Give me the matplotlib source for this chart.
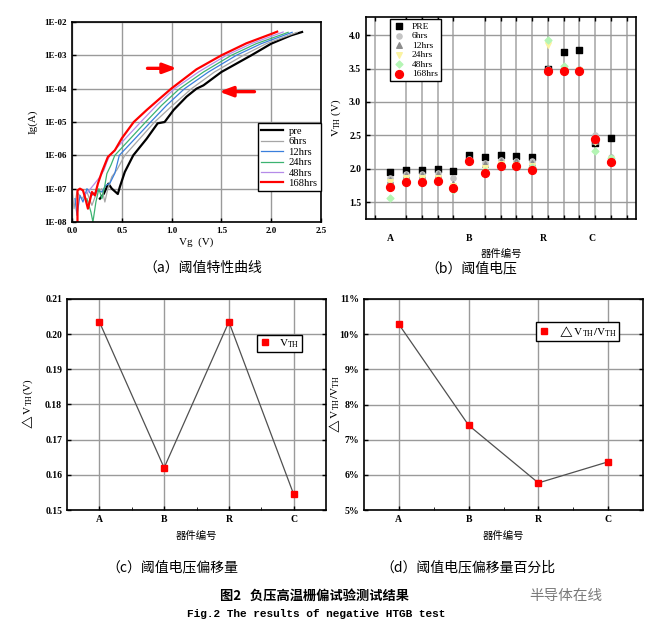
import numpy as np
import matplotlib.pyplot as plt
from matplotlib.ticker import FixedLocator, FuncFormatter

plt.rcParams['font.family'] = ['Liberation Serif', 'Noto Sans CJK SC', 'DejaVu Sans']
plt.rcParams['mathtext.fontset'] = 'stix'
plt.rcParams['xtick.direction'] = 'in'
plt.rcParams['ytick.direction'] = 'in'

# ---------- (a) Ig-Vg curves ----------
curve_labels = ['pre', '6hrs', '12hrs', '24hrs', '48hrs', '168hrs']
curve_colors = ['black', '#a6a6a6', '#3a7fdc', '#3cb371', '#b58be8', 'red']

vg_pre = [0.28, 0.32, 0.365, 0.40, 0.46, 0.48, 0.53, 0.615, 0.75, 0.86, 0.93, 1.02, 1.15, 1.25, 1.32, 1.5, 1.8, 2.0, 2.2, 2.31]
lg_pre = [-7.3, -7.15, -6.85, -7.0, -7.16, -6.95, -6.5, -6.0, -5.5, -5.04, -5.0, -4.64, -4.24, -4.0, -3.9, -3.5, -3.0, -2.65, -2.4, -2.30]

vg_6h = [0.0, 0.02, 0.05, 0.1, 0.15, 0.2, 0.25, 0.3, 0.33, 0.36, 0.40, 0.45, 0.53, 0.83, 1.01, 1.20, 1.43, 1.72, 1.95, 2.26]
lg_6h = [-7.0, -7.6, -7.1, -7.3, -7.1, -7.5, -7.1, -7.0, -7.4, -7.0, -6.64, -6.44, -6.0, -5.0, -4.5, -4.0, -3.5, -3.0, -2.65, -2.31]

vg_12h = [0.03, 0.05, 0.08, 0.11, 0.15, 0.2, 0.26, 0.3, 0.34, 0.38, 0.43, 0.475, 0.79, 0.95, 1.13, 1.37, 1.65, 1.9, 2.21]
lg_12h = [-7.3, -7.8, -7.2, -7.4, -7.0, -7.2, -7.05, -7.1, -6.9, -6.84, -6.54, -6.0, -5.0, -4.5, -4.0, -3.5, -3.0, -2.65, -2.31]

vg_24h = [0.15, 0.19, 0.21, 0.24, 0.27, 0.30, 0.33, 0.35, 0.39, 0.43, 0.74, 0.90, 1.08, 1.32, 1.60, 1.85, 2.17]
lg_24h = [-7.3, -7.7, -8.0, -7.4, -7.0, -7.3, -6.9, -6.55, -6.3, -6.0, -5.0, -4.5, -4.0, -3.5, -3.0, -2.65, -2.31]

vg_48h = [0.12, 0.16, 0.2, 0.24, 0.28, 0.32, 0.35, 0.38, 0.69, 0.85, 1.03, 1.27, 1.55, 1.8, 2.12]
lg_48h = [-7.2, -7.1, -6.95, -6.8, -6.65, -6.45, -6.2, -6.0, -5.0, -4.5, -4.0, -3.5, -3.0, -2.65, -2.30]

vg_168h = [0.055, 0.055, 0.08, 0.11, 0.13, 0.16, 0.20, 0.23, 0.26, 0.30, 0.36, 0.43, 0.50, 0.62, 0.75, 0.88, 1.0, 1.25, 1.5, 1.75, 2.0, 2.06]
lg_168h = [-8.0, -7.05, -7.0, -7.05, -7.25, -7.6, -7.1, -7.2, -6.85, -6.5, -6.05, -5.85, -5.49, -5.0, -4.64, -4.3, -3.99, -3.42, -3.0, -2.64, -2.36, -2.29]

curves_vg = [vg_pre, vg_6h, vg_12h, vg_24h, vg_48h, vg_168h]
curves_lg = [lg_pre, lg_6h, lg_12h, lg_24h, lg_48h, lg_168h]

# ---------- (b) threshold voltage per device ----------
x_b = list(range(1, 16))
b_labels = ['A', 'B', 'R', 'C']
b_label_pos = [1, 6, 10.7, 13.8]
vth_pre = [1.96, 1.99, 1.99, 2.00, 1.97, 2.20, 2.17, 2.20, 2.19, 2.18, 3.50, 3.74, 3.77, 2.39, 2.46]
vth_6h = [1.87, 1.93, 1.93, 1.94, 1.86, 2.15, 2.09, 2.13, 2.12, 2.11, 3.50, 3.52, 3.50, 2.50, 2.17]
vth_12h = [1.84, 1.91, 1.91, 1.92, 1.78, 2.14, 2.07, 2.12, 2.11, 2.09, 3.50, 3.52, 3.50, 2.42, 2.17]
vth_24h = [1.80, 1.86, 1.86, 1.87, 1.74, 2.12, 2.01, 2.07, 2.06, 2.04, 3.85, 3.50, 3.48, 2.40, 2.15]
vth_48h = [1.56, 1.82, 1.82, 1.84, 1.69, 2.13, 1.97, 2.05, 2.05, 2.02, 3.92, 3.53, 3.48, 2.26, 2.16]
vth_168h = [1.73, 1.81, 1.81, 1.82, 1.72, 2.12, 1.94, 2.04, 2.04, 1.99, 3.46, 3.47, 3.46, 2.45, 2.10]

# ---------- (c), (d) shift per device type ----------
devices = ['A', 'B', 'R', 'C']
dvth = [0.2035, 0.162, 0.2035, 0.1545]
dvth_pct = [10.28, 7.41, 5.77, 6.37]

W, H = 665, 634
fig = plt.figure(figsize=(W / 100, H / 100), dpi=100)


def box(l, r, t, b):
    return [l / W, 1 - b / H, (r - l) / W, (b - t) / H]


def bold_ticks(ax):
    for t in ax.get_xticklabels() + ax.get_yticklabels():
        t.set_fontweight('bold')


tick_fs = 7
grid_kw = dict(color='#9a9a9a', lw=1.0)

# (a)
ax1 = fig.add_axes(box(72, 321, 22, 222))
for vg, lg, lab, col in zip(curves_vg, curves_lg, curve_labels, curve_colors):
    lw = 1.6 if lab in ('pre', '168hrs') else 0.9
    ax1.plot(vg, 10.0 ** np.array(lg), color=col, lw=lw, label=lab)
ax1.set_yscale('log')
ax1.set_xlim(0, 2.5)
ax1.set_ylim(1e-8, 1e-2)
ax1.set_xticks(np.arange(0, 2.51, 0.5))
ax1.xaxis.set_major_formatter(FuncFormatter(lambda v, p: '%.1f' % v))
ax1.yaxis.set_major_locator(FixedLocator([10.0 ** k for k in range(-8, -1)]))
ax1.yaxis.set_minor_locator(FixedLocator([]))
ax1.yaxis.set_major_formatter(FuncFormatter(lambda v, p: '1E-%02d' % round(-np.log10(v))))
ax1.grid(True, **grid_kw)
ax1.tick_params(labelsize=6.5, length=3, width=1)
bold_ticks(ax1)
for s in ax1.spines.values():
    s.set_linewidth(1.2)
ax1.set_xlabel('Vg  (V)', fontsize=8, labelpad=2)
ax1.set_ylabel('Ig(A)', fontsize=8, labelpad=5)
ax1.annotate('', xy=(1.08, 10 ** -3.39), xytext=(0.73, 10 ** -3.39),
             arrowprops=dict(arrowstyle='-|>,head_width=0.3,head_length=0.8', color='red', lw=2.4))
ax1.annotate('', xy=(1.45, 10 ** -4.09), xytext=(1.86, 10 ** -4.09),
             arrowprops=dict(arrowstyle='-|>,head_width=0.3,head_length=0.8', color='red', lw=2.4))
leg = ax1.legend(loc='upper left', bbox_to_anchor=(0.746, 0.493), borderaxespad=0, fontsize=7.6,
                 fancybox=False, edgecolor='black', framealpha=1, handlelength=2.1,
                 labelspacing=0.1, borderpad=0.3, handletextpad=0.5)
leg.get_frame().set_linewidth(1.0)

# (b)
ax2 = fig.add_axes(box(366, 636, 17, 219))
ax2.scatter(x_b, vth_pre, marker='s', s=22, color='black', label='PRE', zorder=3)
ax2.scatter(x_b, vth_6h, marker='o', s=14, color='#c4c4c4', label='6hrs', zorder=3)
ax2.scatter(x_b, vth_12h, marker='^', s=16, color='#8c8c8c', label='12hrs', zorder=3)
ax2.scatter(x_b, vth_24h, marker='v', s=16, color='#fbf3a0', label='24hrs', zorder=3)
ax2.scatter(x_b, vth_48h, marker='D', s=12, color='#b4f5b4', label='48hrs', zorder=3)
ax2.scatter(x_b, vth_168h, marker='o', s=32, color='red', label='168hrs', zorder=3)
ax2.set_xlim(-0.55, 16.6)
ax2.set_ylim(1.25, 4.27)
ax2.set_yticks([1.5, 2.0, 2.5, 3.0, 3.5, 4.0])
ax2.yaxis.set_major_formatter(FuncFormatter(lambda v, p: '%.1f' % v))
ax2.set_xticks(b_label_pos)
ax2.set_xticklabels(b_labels)
ax2.set_xticks(range(0, 17), minor=True)
ax2.tick_params(axis='x', which='major', length=0, pad=11, labelsize=tick_fs)
ax2.tick_params(axis='x', which='minor', length=3, width=1, top=True)
ax2.tick_params(axis='y', labelsize=tick_fs, length=3, width=1)
bold_ticks(ax2)
ax2.grid(True, axis='y', **grid_kw)
ax2.grid(True, axis='x', which='minor', color='#ababab', lw=1.2)
for s in ax2.spines.values():
    s.set_linewidth(1.2)
ax2.set_xlabel('器件编号', fontsize=7.5, labelpad=4)
ax2.set_ylabel(r'$\mathrm{V_{TH}}$ (V)', fontsize=8, labelpad=4)
leg = ax2.legend(loc='upper left', bbox_to_anchor=(0.089, 0.989), borderaxespad=0, fontsize=6.8,
                 fancybox=False, edgecolor='black', framealpha=1, handlelength=1.2,
                 labelspacing=0.1, borderpad=0.3, handletextpad=0.8)
leg.get_frame().set_linewidth(1.0)

# (c), (d)
for pos, vals, ylim, yt, fmt, ylab, lab, anchor, labx in [
        (box(67, 326, 299, 510), dvth, (0.15, 0.21), np.arange(0.15, 0.2101, 0.01), '%.2f',
         r'$\triangle\mathrm{V_{TH}}$(V)', r'$\mathrm{V_{TH}}$', (0.733, 0.829), -0.123),
        (box(364, 643, 299, 510), dvth_pct, (5, 11), np.arange(5, 11.01, 1), '%d%%',
         r'$\triangle\mathrm{V_{TH}/V_{TH}}$', r'$\triangle\mathrm{V_{TH}/V_{TH}}$', (0.616, 0.891), -0.078)]:
    ax = fig.add_axes(pos)
    ax.plot(range(len(devices)), vals, color='#505050', lw=0.9, marker='s', ms=4.2,
            mfc='red', mec='red', label=lab)
    ax.set_xlim(-0.5, 3.5)
    ax.set_ylim(*ylim)
    ax.set_yticks(yt)
    ax.yaxis.set_major_formatter(FuncFormatter(lambda v, p, f=fmt: f % round(v, 2)))
    ax.set_xticks(range(len(devices)))
    ax.set_xticklabels(devices)
    ax.set_xticks([0.5, 1.5, 2.5], minor=True)
    ax.tick_params(labelsize=tick_fs, length=3, width=1)
    ax.tick_params(axis='x', which='minor', length=2)
    ax.tick_params(axis='y', right=True)
    bold_ticks(ax)
    ax.grid(True, **grid_kw)
    for s in ax.spines.values():
        s.set_linewidth(1.2)
    ax.set_xlabel('器件编号', fontsize=7.5, labelpad=5)
    ax.set_ylabel(ylab, fontsize=8)
    ax.yaxis.set_label_coords(labx, 0.5)
    leg = ax.legend(loc='upper left', bbox_to_anchor=anchor, borderaxespad=0, fontsize=8,
                    fancybox=False, edgecolor='black', framealpha=1, handlelength=1.0,
                    borderpad=0.2, handletextpad=0.8)
    leg.get_frame().set_linewidth(1.0)
    leg.legend_handles[0].set_linestyle('none')

cjk = ['Noto Sans CJK SC', 'DejaVu Sans']
fig.text(203 / W, 1 - 268 / H, '（a）阈值特性曲线', fontsize=10, family=cjk, ha='center', va='center')
fig.text(471 / W, 1 - 268 / H, '（b）阈值电压', fontsize=10, family=cjk, ha='center', va='center')
fig.text(172 / W, 1 - 567 / H, '（c）阈值电压偏移量', fontsize=10, family=cjk, ha='center', va='center')
fig.text(468 / W, 1 - 567 / H, '（d）阈值电压偏移量百分比', fontsize=10, family=cjk, ha='center', va='center')
fig.text(314 / W, 1 - 596 / H, '图2   负压高温栅偏试验测试结果', fontsize=9.5, family=cjk,
         weight='bold', ha='center', va='center')
fig.text(316 / W, 1 - 614 / H, 'Fig.2 The results of negative HTGB test', fontsize=8,
         family=['Liberation Mono', 'DejaVu Sans Mono'], weight='bold', ha='center', va='center')
fig.text(566 / W, 1 - 596 / H, '半导体在线', fontsize=10.5, family=cjk, color='#7a7a7a',
         ha='center', va='center')

fig.savefig('out.png', dpi=100)
